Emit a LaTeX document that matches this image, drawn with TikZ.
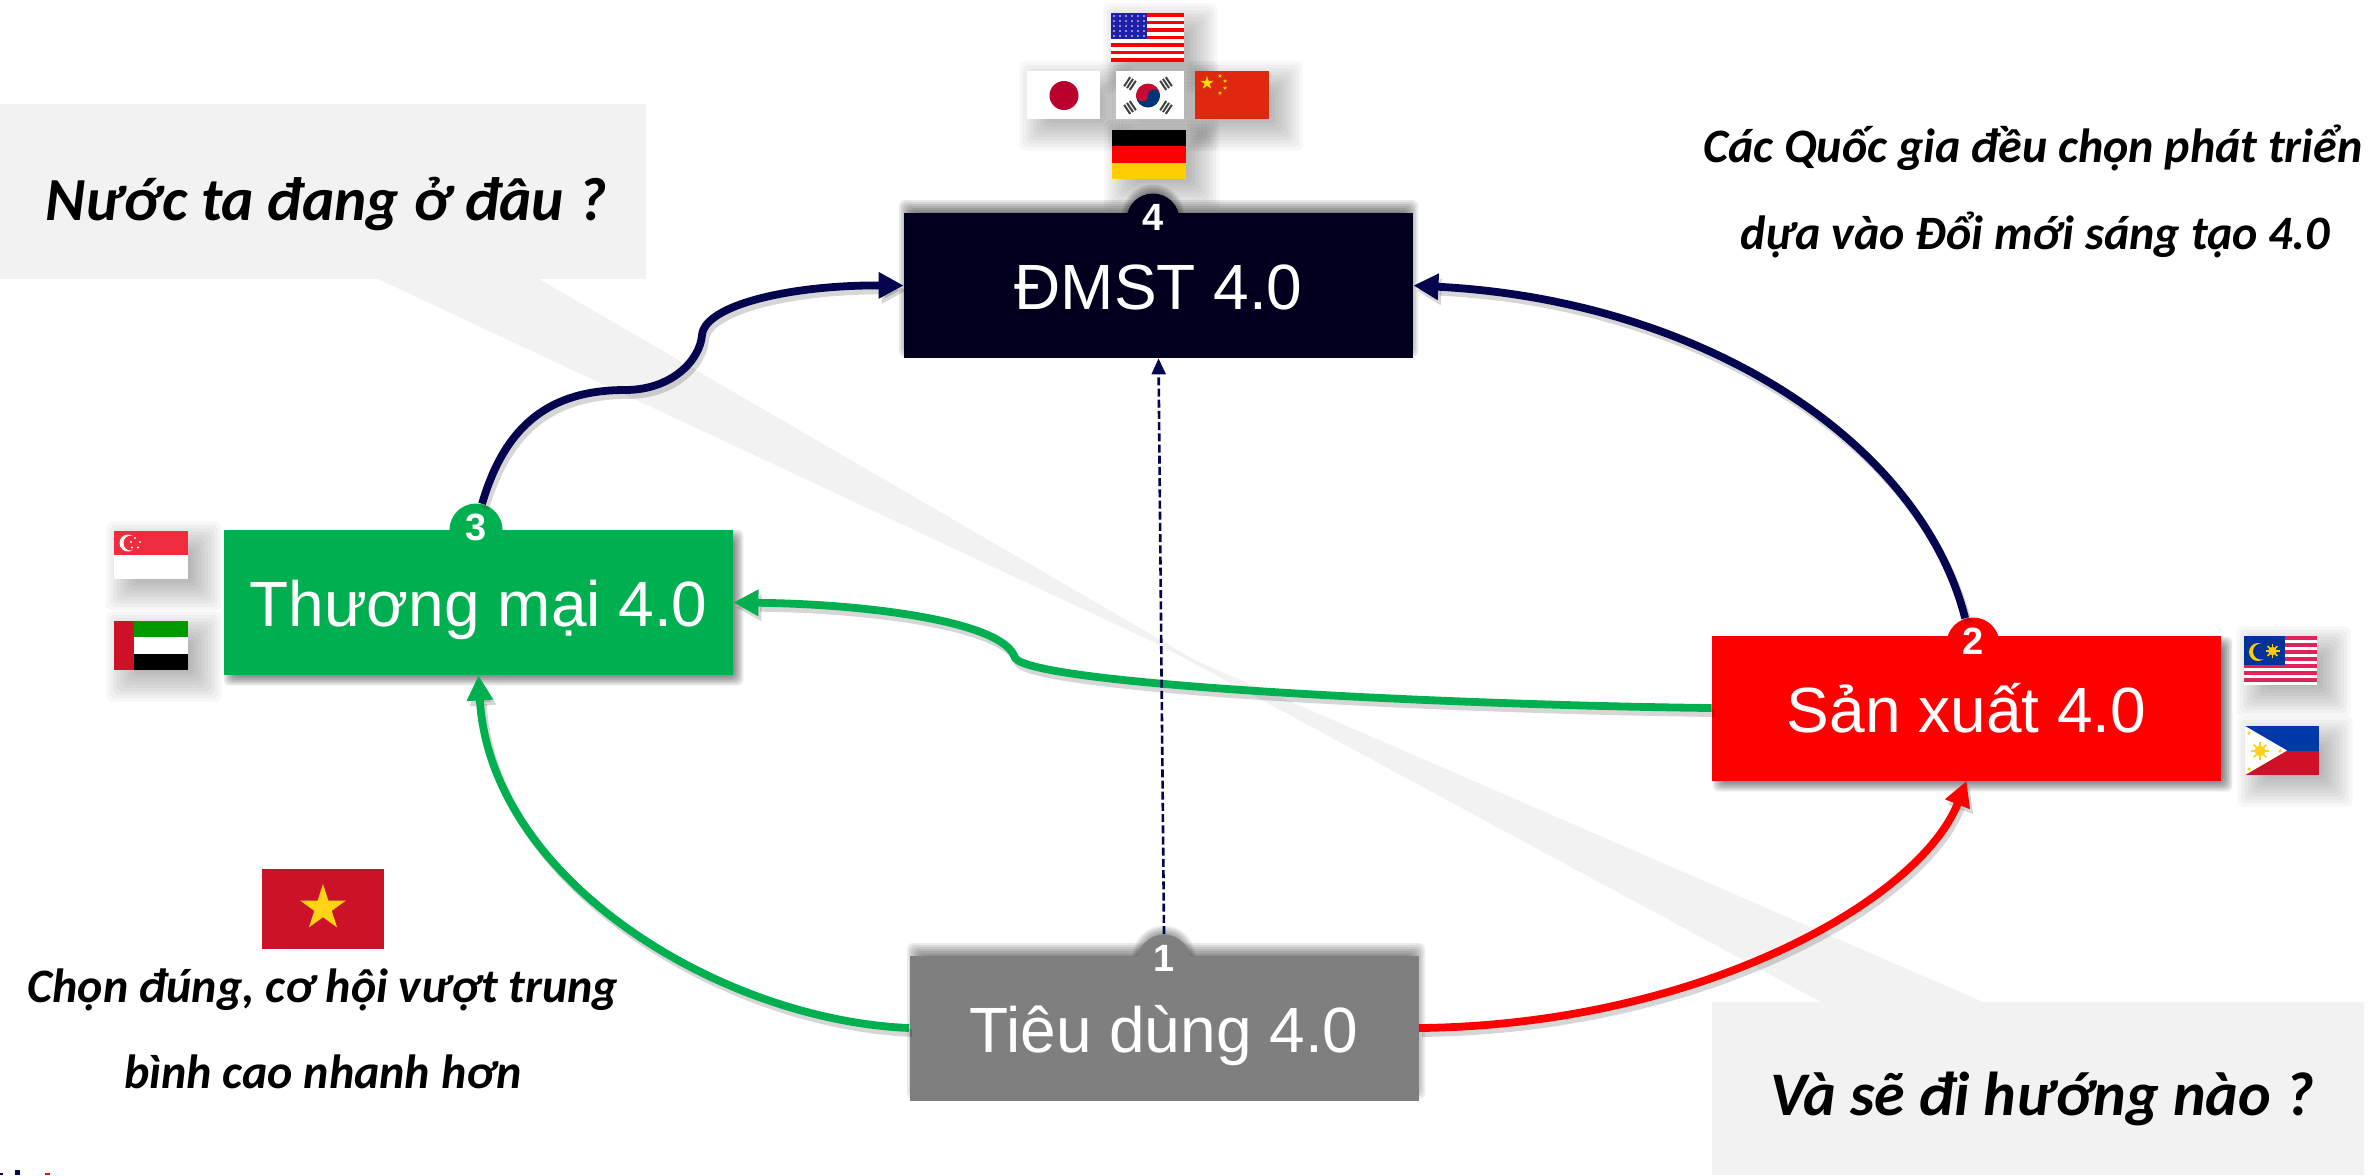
\documentclass[tikz,border=0pt]{standalone}
\usepackage{fontspec}
\setmainfont{Liberation Sans}
\newfontfamily\callfont{Carlito}
\usetikzlibrary{arrows.meta,shapes.geometric}
\definecolor{navyline}{HTML}{05054F}
\definecolor{navybox}{HTML}{00001E}
\definecolor{gbox}{HTML}{00B050}
\definecolor{graybox}{HTML}{7F7F7F}
\definecolor{callgray}{HTML}{F2F2F2}
\definecolor{jpred}{HTML}{BC002D}
\definecolor{krred}{HTML}{C60C30}
\definecolor{krblue}{HTML}{003478}
\definecolor{cnred}{HTML}{DE2910}
\definecolor{cnyel}{HTML}{FFDE00}
\definecolor{deyel}{HTML}{FFCE00}
\definecolor{sgred}{HTML}{EF2B3D}
\definecolor{aegreen}{HTML}{009900}
\definecolor{phred}{HTML}{CE1126}
\definecolor{myred}{HTML}{E0245A}
\definecolor{myblue}{HTML}{003399}
\definecolor{myyel}{HTML}{FFCC00}
\definecolor{phblue}{HTML}{0038A8}
\definecolor{phyel}{HTML}{FCD116}
\definecolor{vnred}{HTML}{CC1229}
\definecolor{vnyel}{HTML}{FFD316}
\definecolor{usblue}{HTML}{1F1FA8}
\newcommand{\softrect}[7]{\foreach \k in {1,...,#5}{\pgfmathsetmacro\ee{#6*(1-2*\k/#5)}\fill[black,opacity=#7,rounded corners=3pt] ({#1-\ee},{#2-\ee}) rectangle ({#3+\ee},{#4+\ee});}}
\newcommand{\softcirc}[6]{\foreach \k in {1,...,#4}{\pgfmathsetmacro\ee{#3+#5*(1-2*\k/#4)}\fill[black,opacity=#6] (#1,#2) circle ({\ee});}}
\newcommand{\flagsh}[4]{\softrect{#1+13}{#2+11}{#3+13}{#4+11}{14}{24}{0.03}}
\newcommand{\fstar}[4]{\fill[#1] (#2,#3) +(-90:#4) -- +(-54:{.382*#4}) -- +(-18:#4) -- +(18:{.382*#4}) -- +(54:#4) -- +(90:{.382*#4}) -- +(126:#4) -- +(162:{.382*#4}) -- +(198:#4) -- +(234:{.382*#4}) -- cycle;}
\newcommand{\ksun}[4]{\foreach \a in {0,45,...,315}{\draw[#1,line width=.8pt] (#2,#3) -- +(\a:#4);}\fill[#1] (#2,#3) circle ({#4*.6});}
\newcommand{\trig}[4]{\foreach \s in {-1,0,1}{\draw[black!75,line width=1pt] ({#1+\s*3.4*#3+5.5*#4},{#2+\s*3.4*#4-5.5*#3}) -- ({#1+\s*3.4*#3-5.5*#4},{#2+\s*3.4*#4+5.5*#3});}}
\tikzset{
 mainbox/.style={rectangle,inner sep=0pt,minimum width=254.5pt,minimum height=72.5pt,text=white,font=\fontsize{32pt}{36pt}\selectfont,text height=30pt,text depth=6pt},
 badge/.style={circle,inner sep=0pt,minimum size=26.5pt,text=white,font=\fontsize{19pt}{20pt}\selectfont\bfseries,text height=13.6pt,text depth=3pt},
 flow/.style={line width=3.9pt,-{Triangle[length=12.5pt,width=12.5pt]}},
 flowsh/.style={flow,draw=black,opacity=.16,transform canvas={shift={(3,5)}}},
 calltext/.style={inner sep=0pt,anchor=base,font=\callfont\bfseries\itshape},
 bigcall/.style={calltext,font=\callfont\bfseries\itshape\fontsize{30.6pt}{36pt}\selectfont},
 bigcallb/.style={calltext,font=\callfont\bfseries\itshape\fontsize{31pt}{36pt}\selectfont},
 smallcall/.style={calltext,font=\callfont\bfseries\itshape\fontsize{24pt}{28pt}\selectfont}
}
\begin{document}
\begin{tikzpicture}[x=0.5pt,y=-0.5pt]
\useasboundingbox[fill=white] (0,0) rectangle (2369,1175);
% callouts
\fill[callgray] (0,104) rectangle (646,279);
\fill[callgray] (378,279) -- (539,279) -- (1207,667) -- cycle;
\fill[callgray] (1712,1002) rectangle (2364,1175);
\fill[callgray] (1821,1002) -- (1983,1002) -- (1160,645) -- cycle;
% box shadows
\softrect{904+1}{213-7}{1413-1}{358-7}{8}{8}{0.09}
\softrect{910+3}{956-7}{1418+1}{1100-7}{8}{8}{0.08}
\softrect{224+5}{530+5}{733+5}{675+5}{8}{7}{0.09}
\softrect{1712+6}{636+6}{2221+6}{780+6}{8}{7}{0.09}
\softcirc{1153}{216}{26}{8}{7}{0.09}
\softcirc{1164}{957}{26}{8}{7}{0.08}
% flag shadows
\flagsh{1111}{13}{1184}{62}
\flagsh{1027}{71}{1100}{119}
\flagsh{1116}{71}{1184}{119}
\flagsh{1195}{71}{1269}{119}
\flagsh{1112}{130}{1186}{179}
\flagsh{114}{531}{188}{579}
\flagsh{114}{621}{188}{670}
\flagsh{2244}{636}{2317}{685}
\flagsh{2245}{726}{2319}{775}
% boxes
\node[mainbox,fill=navybox] (dmst) at (1158.5,285.5) {ĐMST 4.0};
\node[mainbox,fill=gbox] (tm) at (478.5,602.5) {Thương mại 4.0};
\node[mainbox,fill=red] (sx) at (1966.5,708) {Sản xuất 4.0};
\node[mainbox,fill=graybox] (td) at (1164,1028) {Tiêu dùng 4.0};
\node[badge,fill=navybox] (b4) at (1153,220) {4};
\node[badge,fill=gbox] (b3) at (476,530) {3};
\node[badge,fill=red] (b2) at (1973,644) {2};
\node[badge,fill=graybox] (b1) at (1164,961) {1};
% connector paths
\newcommand{\pathNavyA}{(b3.77) .. controls (505,425) and (550,390) .. (625,390) .. controls (672,390) and (700,360) .. (702,335) .. controls (705,305) and (790,285) .. (dmst.west)}
\newcommand{\pathNavyB}{(b2.107) .. controls (1920,440) and (1700,300) .. (dmst.east)}
\newcommand{\pathGreenA}{(sx.west) .. controls (1450,705) and (1035,685) .. (1015,658) .. controls (1005,622) and (870,604) .. (tm.east)}
\newcommand{\pathGreenB}{(td.west) .. controls (720,1020) and (490,880) .. (tm.south)}
\newcommand{\pathRed}{(td.east) .. controls (1700,1025) and (1920,900) .. (sx.south)}
\draw[flowsh] \pathNavyA;
\draw[flowsh] \pathNavyB;
\draw[flowsh] \pathGreenA;
\draw[flowsh] \pathGreenB;
\draw[flowsh] \pathRed;
\draw[flow,navyline] \pathNavyA;
\draw[flow,navyline] \pathNavyB;
\draw[flow,gbox] \pathGreenA;
\draw[flow,gbox] \pathGreenB;
\draw[flow,red] \pathRed;
\draw[navyline,line width=1.3pt,dash pattern=on 4pt off 1.6pt,-{Triangle[length=8pt,width=7pt]}] (b1.90) -- (dmst.south);
% USA
\fill[red] (1111,13) rectangle (1184,62);
\foreach \i in {1,3,5,7,9,11}{\fill[white] (1111,{13+\i*49/13}) rectangle (1184,{13+(\i+1)*49/13});}
\fill[usblue] (1111,13) rectangle (1147,39);
\foreach \i in {0,...,5}{\foreach \j in {0,...,4}{\fill[white] ({1114+\i*6},{16+\j*5}) circle (.8);}}
% Japan
\fill[white] (1027,71) rectangle (1100,119);
\fill[jpred] (1064,95.5) circle (14.5);
% Korea
\fill[white] (1116,71) rectangle (1184,119);
\begin{scope}
\clip (1148,95.5) circle (12);
\fill[krred] (1136,83) rectangle (1160,96);
\fill[krblue] (1136,96) rectangle (1160,108);
\fill[krred] (1142,95.5) circle (6);
\fill[krblue] (1154,95.5) circle (6);
\end{scope}
\trig{1130}{83.5}{-.83}{-.55}
\trig{1166}{83.5}{.83}{-.55}
\trig{1130}{107.5}{-.83}{.55}
\trig{1166}{107.5}{.83}{.55}
% China
\fill[cnred] (1195,71) rectangle (1269,119);
\fstar{cnyel}{1207}{83}{7}
\fstar{cnyel}{1220}{76}{2.2}
\fstar{cnyel}{1225}{81}{2.2}
\fstar{cnyel}{1225}{88}{2.2}
\fstar{cnyel}{1220}{93}{2.2}
% Germany
\fill[black] (1112,130) rectangle (1186,146.3);
\fill[red] (1112,146.3) rectangle (1186,162.7);
\fill[deyel] (1112,162.7) rectangle (1186,179);
% Singapore
\fill[white] (114,531) rectangle (188,579);
\fill[sgred] (114,531) rectangle (188,555);
\fill[white] (128,543) circle (8.5);
\fill[sgred] (131,543) circle (7.5);
\foreach \p in {(135,538),(140,542),(138,547.5),(132,547.5),(131,542)}{\fill[white] \p circle (1.1);}
% UAE
\fill[aegreen] (114,621) rectangle (188,637.3);
\fill[white] (114,637.3) rectangle (188,653.7);
\fill[black] (114,653.7) rectangle (188,670);
\fill[phred] (114,621) rectangle (133.5,670);
% Malaysia
\fill[white] (2244,636) rectangle (2317,685);
\foreach \i in {0,2,...,12}{\fill[myred] (2244,{636+\i*49/14}) rectangle (2317,{636+(\i+1)*49/14});}
\fill[myblue] (2244,636) rectangle (2285,665);
\fill[myyel] (2258,652) circle (9);
\fill[myblue] (2261,651.5) circle (8);
\ksun{myyel}{2272.5}{651}{7}
% Philippines
\fill[phblue] (2245,726) rectangle (2319,750.5);
\fill[phred] (2245,750.5) rectangle (2319,775);
\fill[white] (2245,726) -- (2287,750.5) -- (2245,775) -- cycle;
\ksun{phyel}{2260}{751}{9}
\fill[phyel] (2249,733) circle (1.8) (2249,769) circle (1.8) (2280,751) circle (1.8);
% Vietnam
\fill[vnred] (262,869) rectangle (384,949);
\fstar{vnyel}{323}{908}{24}
% residual marks
\fill[navyline] (0,1173) rectangle (3,1175);
\fill[navyline] (15,1170) rectangle (20,1175);
\fill[red] (45,1173) rectangle (50,1175);
% texts
\node[bigcall] (qa) at (326,220) {Nước ta đang ở đâu ?};
\node[bigcallb] (qb) at (2042,1115) {Và sẽ đi hướng nào ?};
\node[smallcall] (ta) at (2033,162) {Các Quốc gia đều chọn phát triển};
\node[smallcall] (tb) at (2035,249) {dựa vào Đổi mới sáng tạo 4.0};
\node[smallcall] (tc) at (323,1002) {Chọn đúng, cơ hội vượt trung};
\node[smallcall] (td2) at (323,1088) {bình cao nhanh hơn};
\end{tikzpicture}
\end{document}
